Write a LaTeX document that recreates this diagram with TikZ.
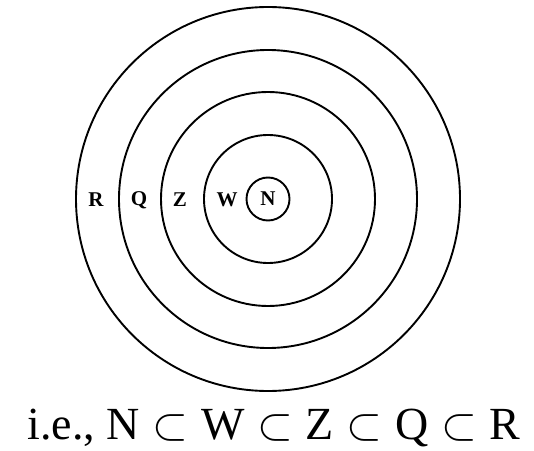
\RequirePackage{fix-cm}
\documentclass[tikz,border=0pt]{standalone}
\usepackage{fontspec}
\setmainfont{Liberation Serif}
\usepackage{tikz}
\usetikzlibrary{calc,positioning}
\newcommand{\sbs}{${}\subset{}$}
\tikzset{
  ring/.style={draw=black,line width=1.9pt},
  lbl/.style={font=\fontsize{21}{21}\selectfont\bfseries,inner sep=1pt},
  rel/.style={font=\fontsize{46}{46}\selectfont,inner sep=0pt,anchor=base}
}
\begin{document}
\begin{tikzpicture}[x=1pt,y=1pt]
\useasboundingbox (0,0) rectangle (534,450);
\coordinate (O) at (268,251);
% rings, outer to inner
\foreach \r in {192,149,107,64,21.5}
  \draw[ring] (O) circle (\r);
\node[lbl] (N) at (O) {N};
\node[lbl] (W) at (227,250) {W};
\node[lbl] (Z) at (180,250) {Z};
\node[lbl] (Q) at (139,250) {Q};
\node[lbl] (R) at (96,250) {R};
\node[rel] (txt) at (274,11) {i.e., N\sbs W\sbs Z\sbs Q\sbs R};
\end{tikzpicture}
\end{document}
